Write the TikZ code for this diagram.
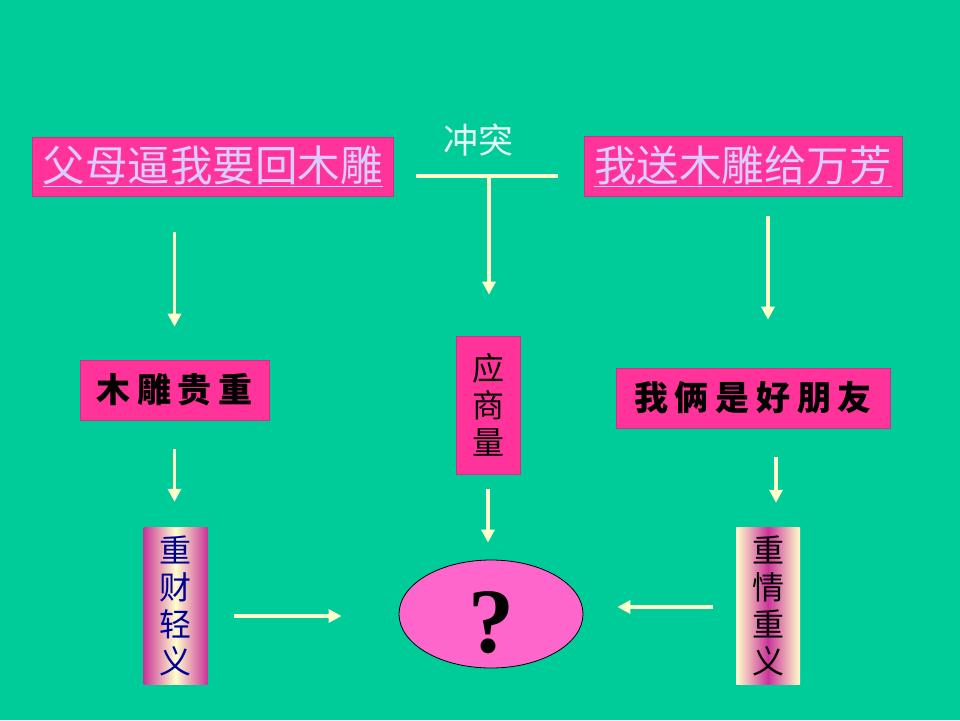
\documentclass[tikz,border=0pt]{standalone}
\usepackage{fontspec}
\usepackage{tikz}
\usetikzlibrary{arrows.meta,shapes.geometric}
\newfontfamily\cjk{Noto Sans CJK SC}
\newfontfamily\cjkwide[LetterSpace=20]{Noto Sans CJK SC}
\newfontfamily\qmark{Liberation Serif}
\definecolor{bg}{HTML}{00CC99}
\definecolor{magbox}{HTML}{FF3399}
\definecolor{rim}{HTML}{CC3380}
\definecolor{pinkfill}{HTML}{FF66CC}
\definecolor{cream}{HTML}{FFFFCC}
\definecolor{lav}{HTML}{D9CCFF}
\definecolor{grad}{HTML}{CC3399}
\definecolor{navy}{HTML}{000099}
\tikzset{
  topbox/.style={fill=magbox, draw=rim, line width=0.8pt, inner sep=0pt,
    text=lav, font=\cjk\fontsize{42.5pt}{42.5pt}\selectfont},
  midbox/.style={fill=magbox, draw=rim, line width=0.6pt, inner sep=0pt,
    text=black, font=\cjkwide\bfseries\fontsize{34pt}{34pt}\selectfont},
  vbox/.style={inner sep=0pt, align=center, minimum width=64pt, minimum height=157pt,
    font=\cjk\fontsize{32pt}{37pt}\selectfont},
  arr/.style={draw=cream, line width=3.5pt, -{Triangle[width=13pt,length=13pt]}},
}
\begin{document}
\begin{tikzpicture}[x=1pt,y=-1pt]
  \fill[bg] (0,0) rectangle (960,720);
  \useasboundingbox (0,0) rectangle (960,720);
  % upper row
  \node[topbox, minimum width=361pt, minimum height=59pt] (fumu) at (212.5,166.5) {\underline{父母逼我要回木雕}};
  \node[topbox, minimum width=318pt, minimum height=60pt] (song) at (743,166) {\underline{我送木雕给万芳}};
  \node[text=white!90!bg, font=\cjk\fontsize{35pt}{35pt}\selectfont] (chong) at (478,140) {冲突};
  \coordinate (cl) at (416,176);
  \coordinate (cr) at (558,176);
  \coordinate (ct) at (489,176);
  \draw[draw=cream, line width=3.5pt] (cl) -- (cr);
  % middle row
  \node[midbox, minimum width=189pt, minimum height=60pt] (gui) at (174.5,390) {木雕贵重};
  \node[fill=magbox, draw=rim, line width=0.6pt, inner sep=0pt, align=center,
    minimum width=64pt, minimum height=138pt, font=\cjk\fontsize{32pt}{37pt}\selectfont] (shang) at (488,405) {应\\商\\量};
  \node[midbox, minimum width=274pt, minimum height=60pt] (peng) at (753,398) {我俩是好朋友};
  % lower row
  \node[vbox, left color=grad, right color=grad, middle color=cream, text=navy] (cai) at (175.5,605.5) {重\\财\\轻\\义};
  \node[vbox, left color=cream, right color=cream, middle color=grad, text=black] (qing) at (768,605.5) {重\\情\\重\\义};
  \node[ellipse, fill=pinkfill, draw=black, line width=0.8pt, inner sep=0pt,
    minimum width=184pt, minimum height=108pt, text height=76pt, text depth=0pt,
    font=\qmark\bfseries\fontsize{92pt}{92pt}\selectfont] (wen) at (491,614) {?};
  % arrows
  \draw[arr, shorten <=36pt, shorten >=33pt] (fumu.south -| gui.north) -- (gui.north);
  \draw[arr, shorten >=41pt] (ct) -- (ct |- shang.north);
  \draw[arr] ([xshift=25pt,yshift=-20pt]song.south) -- ([xshift=15pt,yshift=48pt]peng.north);
  \draw[arr, shorten <=29pt, shorten >=25pt] (gui.south) -- (gui.south |- cai.north);
  \draw[arr, shorten <=15pt, shorten >=17pt] (shang.south) -- (shang.south |- wen.north);
  \draw[arr] ([xshift=8pt,yshift=-29pt]peng.south -| qing.south) -- ([xshift=8pt,yshift=24pt]qing.north);
  \draw[arr] ([xshift=26pt,yshift=-10.5pt]cai.east) -- ([xshift=-57pt,yshift=-2pt]wen.west);
  \draw[arr] ([xshift=-23pt,yshift=-1.5pt]qing.west) -- ([xshift=34pt,yshift=7pt]wen.east);
\end{tikzpicture}
\end{document}
